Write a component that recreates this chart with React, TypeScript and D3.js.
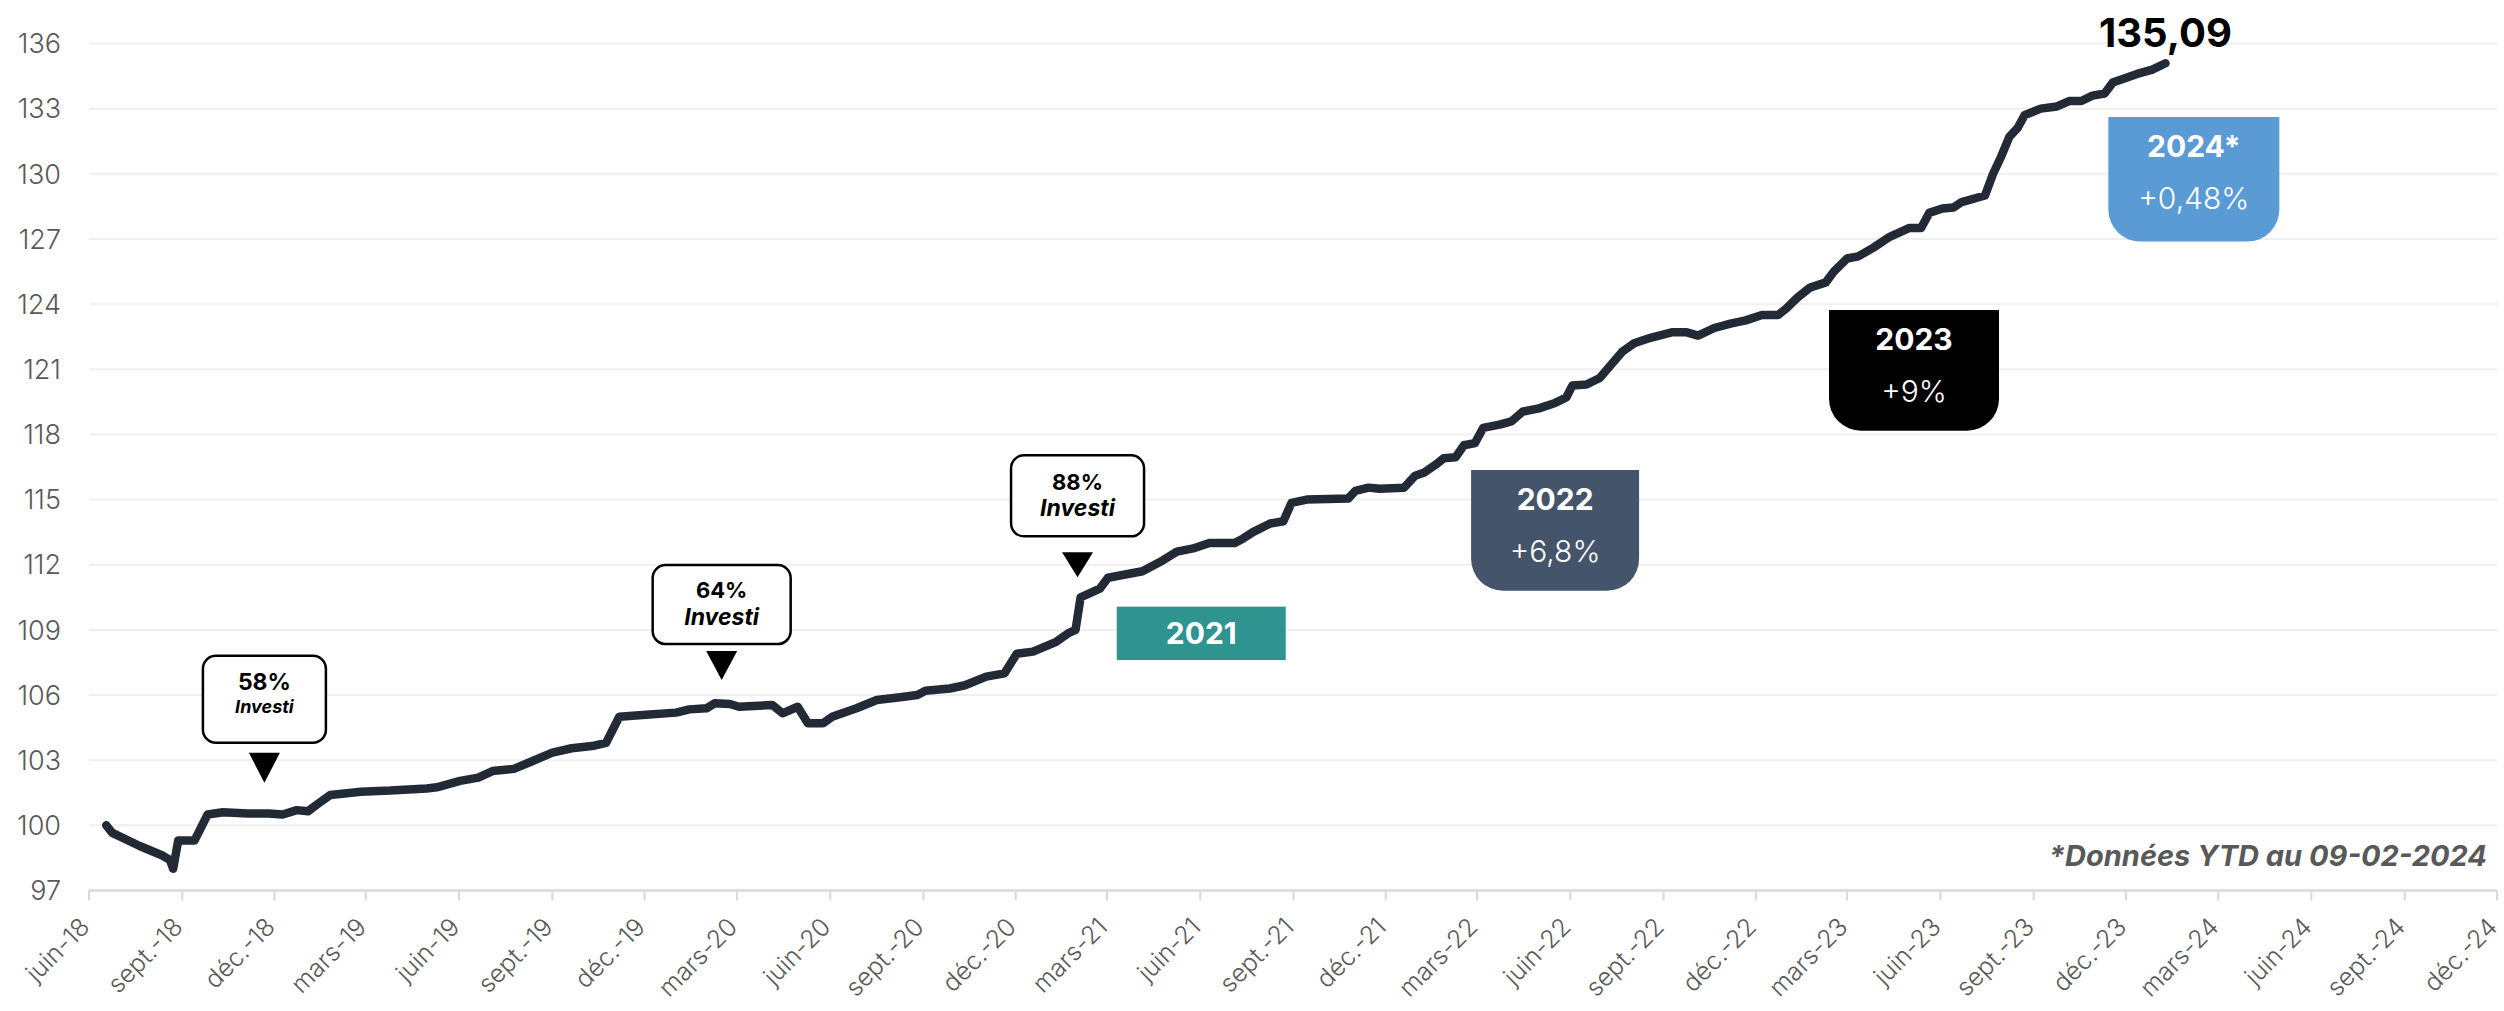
import React from 'react';
import * as d3 from 'd3';

const W = 2504;
const H = 1011;

// ---- Data ----
const dates: string[] = [
  '2018-06-18','2018-06-24','2018-07-21','2018-08-13','2018-08-20','2018-08-23','2018-08-28','2018-09-13',
  '2018-09-26','2018-10-11','2018-11-05','2018-11-25','2018-12-09','2018-12-23','2019-01-03','2019-01-13',
  '2019-01-25','2019-02-24','2019-03-25','2019-04-30','2019-05-10','2019-06-02','2019-06-20','2019-07-04',
  '2019-07-25','2019-08-12','2019-09-01','2019-09-20','2019-10-10','2019-10-24','2019-11-06','2019-11-29',
  '2020-01-01','2020-01-14','2020-01-31','2020-02-08','2020-02-23','2020-03-03','2020-04-05','2020-04-15',
  '2020-04-30','2020-05-10','2020-05-25','2020-06-03','2020-06-27','2020-07-17','2020-08-09','2020-08-26',
  '2020-09-03','2020-09-27','2020-10-12','2020-11-02','2020-11-20','2020-12-02','2020-12-18','2021-01-10',
  '2021-01-22','2021-01-29','2021-02-03','2021-02-22','2021-03-02','2021-04-05','2021-04-25','2021-05-09',
  '2021-05-25','2021-06-10','2021-07-05','2021-07-13','2021-07-23','2021-08-09','2021-08-22','2021-08-30',
  '2021-09-14','2021-10-25','2021-11-01','2021-11-14','2021-11-25','2021-12-19','2021-12-30','2022-01-08',
  '2022-01-19','2022-01-27','2022-02-08','2022-02-16','2022-02-27','2022-03-07','2022-03-23','2022-04-04',
  '2022-04-15','2022-05-01','2022-05-17','2022-05-28','2022-06-03','2022-06-17','2022-06-30','2022-07-11',
  '2022-07-22','2022-08-03','2022-08-19','2022-09-09','2022-09-24','2022-10-05','2022-10-21','2022-11-06',
  '2022-11-21','2022-12-07','2022-12-23','2022-12-31','2023-01-11','2023-01-23','2023-02-08','2023-02-16',
  '2023-03-01','2023-03-12','2023-03-27','2023-04-12','2023-05-01','2023-05-13','2023-05-21','2023-06-03',
  '2023-06-14','2023-06-22','2023-07-15','2023-07-23','2023-07-31','2023-08-08','2023-08-16','2023-08-23',
  '2023-09-08','2023-09-24','2023-10-06','2023-10-18','2023-10-29','2023-11-10','2023-11-18','2023-12-12',
  '2023-12-27','2024-01-09'
];
const values: number[] = [
  100.0, 99.65, 99.05, 98.6, 98.4, 98.0, 99.3, 99.3,
  100.5, 100.6, 100.55, 100.55, 100.5, 100.7, 100.65, 101.0,
  101.4, 101.55, 101.6, 101.7, 101.75, 102.05, 102.2, 102.5,
  102.6, 102.95, 103.35, 103.55, 103.65, 103.8, 105.0, 105.08,
  105.19, 105.34, 105.39, 105.62, 105.59, 105.46, 105.54, 105.16,
  105.46, 104.7, 104.7, 105.0, 105.39, 105.77, 105.9, 106.0,
  106.2, 106.3, 106.45, 106.85, 107.0, 107.9, 108.0, 108.45,
  108.85, 109.0, 110.5, 110.9, 111.4, 111.7, 112.2, 112.6,
  112.75, 113.0, 113.0, 113.2, 113.5, 113.9, 114.0, 114.85,
  115.0, 115.05, 115.4, 115.55, 115.5, 115.55, 116.1, 116.25,
  116.6, 116.9, 116.95, 117.5, 117.6, 118.3, 118.45, 118.6,
  119.05, 119.2, 119.45, 119.7, 120.25, 120.3, 120.6, 121.2,
  121.8, 122.2, 122.45, 122.7, 122.7, 122.55, 122.9, 123.1,
  123.25, 123.5, 123.5, 123.8, 124.3, 124.75, 125.0, 125.5,
  126.1, 126.2, 126.6, 127.1, 127.5, 127.5, 128.2, 128.4,
  128.45, 128.7, 129.0, 130.0, 130.8, 131.7, 132.1, 132.7,
  133.0, 133.1, 133.35, 133.35, 133.6, 133.7, 134.2, 134.6,
  134.8, 135.09
];

const yTicks: number[] = [97, 100, 103, 106, 109, 112, 115, 118, 121, 124, 127, 130, 133, 136];
const xTickLabels: string[] = [
  'juin-18','sept.-18','déc.-18',
  'mars-19','juin-19','sept.-19','déc.-19',
  'mars-20','juin-20','sept.-20','déc.-20',
  'mars-21','juin-21','sept.-21','déc.-21',
  'mars-22','juin-22','sept.-22','déc.-22',
  'mars-23','juin-23','sept.-23','déc.-23',
  'mars-24','juin-24','sept.-24','déc.-24'
];
const xStart = '2018-06-01';
const xEnd = '2024-12-01';

// "Investi" callouts
const investPct: string[] = ['58%', '64%', '88%'];
const investText: string[] = ['Investi', 'Investi', 'Investi'];
const investDates: string[] = ['2018-11-21', '2020-02-15', '2021-01-31'];
const investValues: number[] = [101.96, 106.69, 111.42];

// yearly performance badges
const yearLabels: string[] = ['2021', '2022', '2023', '2024*'];
const yearPerf: string[] = ['', '+6,8%', '+9%', '+0,48%'];
const yearDates: string[] = ['2021-06-02', '2022-05-17', '2023-05-06', '2024-02-06'];
const yearTop: number[] = [110.07, 116.36, 123.73, 132.62];
const yearBottom: number[] = [107.61, 110.8, 118.17, 126.88];
const yearColors: string[] = ['#2F9490', '#44546A', '#000000', '#5B9BD5'];

const lastLabel = '135,09';
const footnote = '*Données YTD au 09-02-2024';

// ---- Styles ----
const FONT = "Inter, 'Open Sans', sans-serif";
const investStyle = [
  { w: 123, h: 87, boxGap: 40, triGap: 30, triW: 31, pctSize: 23, pctY: 34, subSize: 18, subY: 57 },
  { w: 138, h: 79, boxGap: 36, triGap: 29, triW: 31, pctSize: 22, pctY: 33, subSize: 23, subY: 60 },
  { w: 133, h: 81, boxGap: 41, triGap: 25, triW: 31, pctSize: 22, pctY: 35, subSize: 23, subY: 61 },
];
const badgeW = [169, 168, 170, 171];

const parse = d3.timeParse('%Y-%m-%d');

export default function App() {
  const x = d3.scaleTime().domain([parse(xStart)!, parse(xEnd)!]).range([89, 2497]);
  const y = d3.scaleLinear().domain([97, 136]).range([890.5, 43.5]);

  const pts = dates.map((d, i) => [parse(d)!, values[i]] as [Date, number]);
  const line = d3.line<[Date, number]>().x(d => x(d[0])).y(d => y(d[1])).curve(d3.curveLinear);

  const tickDates = xTickLabels.map((_, i) => d3.timeMonth.offset(parse(xStart)!, 3 * i));

  const last = pts[pts.length - 1];

  return (
    <svg width={W} height={H} style={{ position: 'absolute', left: 0, top: 0, background: '#fff' }}
      fontFamily={FONT}>
      <rect x={0} y={0} width={W} height={H} fill="#fff" />
      {/* gridlines */}
      {yTicks.map(t => t === 97 ? null : (
        <line key={'g' + t} x1={x.range()[0]} x2={x.range()[1]} y1={y(t)} y2={y(t)} stroke="#EFEFEF" strokeWidth={2} />
      ))}
      {/* y labels */}
      {yTicks.map(t => (
        <text key={'yl' + t} x={61} y={y(t)} dy="0.36em" textAnchor="end" fontSize={27} fontWeight={300} fill="#595959">{t}</text>
      ))}
      {/* x axis */}
      <line x1={x.range()[0]} x2={x.range()[1]} y1={y(97)} y2={y(97)} stroke="#D9D9D9" strokeWidth={2.5} />
      {tickDates.map((d, i) => (
        <g key={'xt' + i}>
          <line x1={x(d)} x2={x(d)} y1={y(97)} y2={y(97) + 10} stroke="#D9D9D9" strokeWidth={2} />
          <text transform={`translate(${x(d) + 2},${y(97) + 38}) rotate(-45)`} textAnchor="end" fontSize={25} fontWeight={300} fill="#595959">{xTickLabels[i]}</text>
        </g>
      ))}

      {/* year badges */}
      {yearLabels.map((lab, i) => {
        const cx = x(parse(yearDates[i])!);
        const top = y(yearTop[i]);
        const bot = y(yearBottom[i]);
        const w = badgeW[i];
        const x0 = cx - w / 2, x1 = cx + w / 2;
        if (i === 0) {
          return (
            <g key={'yb' + i}>
              <rect x={x0} y={top} width={w} height={bot - top} fill={yearColors[i]} />
              <text x={cx} y={(top + bot) / 2} dy="0.36em" textAnchor="middle" fontSize={30} fontWeight={700} fill="#fff">{lab}</text>
            </g>
          );
        }
        const r = 32;
        const p = `M${x0},${top}H${x1}V${bot - r}A${r},${r} 0 0 1 ${x1 - r},${bot}H${x0 + r}A${r},${r} 0 0 1 ${x0},${bot - r}Z`;
        return (
          <g key={'yb' + i}>
            <path d={p} fill={yearColors[i]} />
            <text x={cx} y={top + 40} textAnchor="middle" fontSize={30} fontWeight={700} fill="#fff">{lab}</text>
            <text x={cx} y={top + 92} textAnchor="middle" fontSize={30} fontWeight={300} fill="#fff">{yearPerf[i]}</text>
          </g>
        );
      })}

      {/* line */}
      <path d={line(pts) || ''} fill="none" stroke="#222A35" strokeWidth={8.5} strokeLinejoin="round" strokeLinecap="round" />

      {/* investi callouts */}
      {investPct.map((pct, i) => {
        const s = investStyle[i];
        const ax = x(parse(investDates[i])!);
        const ay = y(investValues[i]);
        const bTop = ay - s.boxGap - s.h;
        return (
          <g key={'inv' + i}>
            <rect x={ax - s.w / 2} y={bTop} width={s.w} height={s.h} rx={13} ry={13} fill="#fff" stroke="#000" strokeWidth={2.5} />
            <text x={ax} y={bTop + s.pctY} textAnchor="middle" fontSize={s.pctSize} fontWeight={700} fill="#000">{pct}</text>
            <text x={ax} y={bTop + s.subY} textAnchor="middle" fontSize={s.subSize} fontWeight={700} fontStyle="italic" fill="#000">{investText[i]}</text>
            <path d={`M${ax - s.triW / 2},${ay - s.triGap}H${ax + s.triW / 2}L${ax},${ay}Z`} fill="#000" />
          </g>
        );
      })}

      {/* last value */}
      <text x={x(last[0])} y={47} textAnchor="middle" fontSize={40} fontWeight={700} fill="#000">{lastLabel}</text>

      {/* footnote */}
      <text x={2487} y={866} textAnchor="end" fontSize={29} fontWeight={700} fontStyle="italic" fill="#595959">{footnote}</text>
    </svg>
  );
}
